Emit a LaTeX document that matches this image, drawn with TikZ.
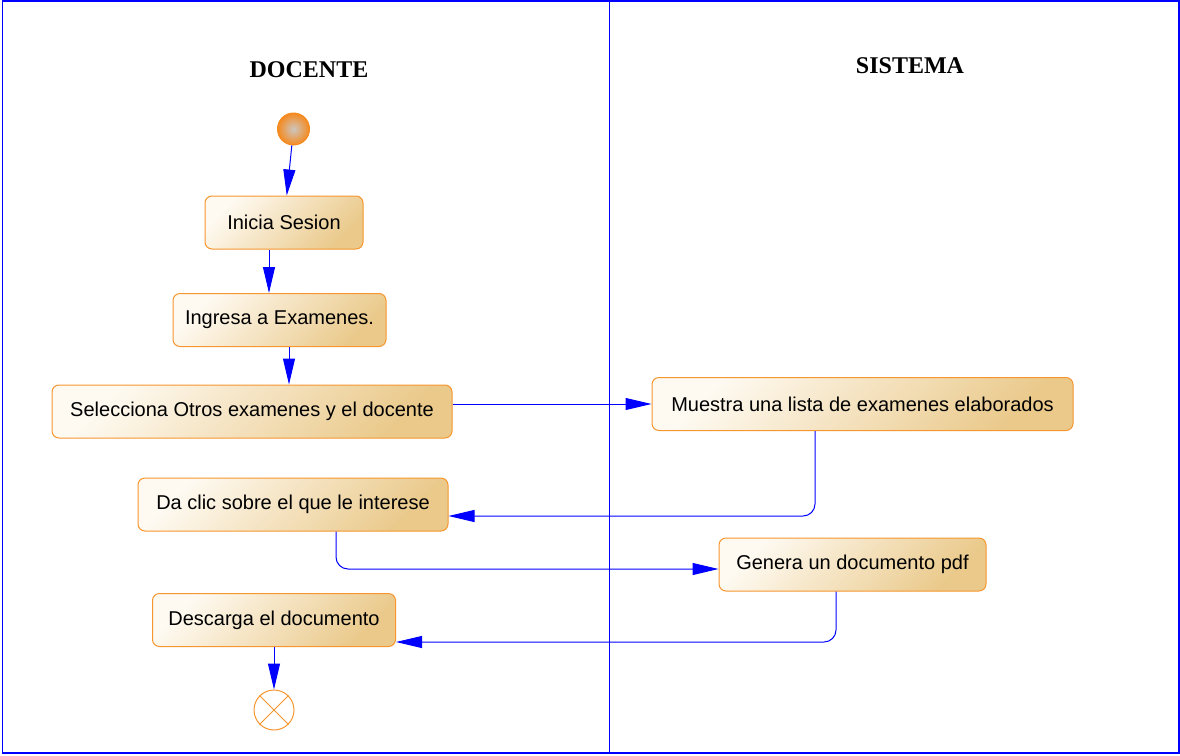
\documentclass[tikz,border=0pt]{standalone}
\usepackage{fontspec}
\setmainfont{Liberation Sans}
\newfontfamily\headfont{Liberation Serif}
\usetikzlibrary{arrows.meta}

\definecolor{actborder}{HTML}{F5962E}
\definecolor{acttop}{HTML}{FEFAF2}
\definecolor{actbot}{HTML}{EAC98A}
\definecolor{startedge}{HTML}{F58A1F}
\definecolor{startcore}{HTML}{CCC6C0}

\begin{document}
\begin{tikzpicture}[x=1pt, y=-1pt, every node/.style={font=\fontsize{20}{24}\selectfont}, >={Triangle[length=26pt, width=12pt]},
	act/.style={draw=actborder, line width=1pt, rounded corners=7pt, top color=acttop, bottom color=actbot, shading angle=45, inner xsep=8pt, minimum height=53pt},
	flow/.style={->, blue, line width=1pt},
	head/.style={font=\headfont\bfseries\fontsize{24}{28}\selectfont}]
	\useasboundingbox (0,0) rectangle (1180,755);
	% swimlanes
	\draw[blue, line width=1.5pt] (2.5,1) rectangle (1179,753);
	\draw[blue, line width=0.8pt] (609,1) -- (609,753);
	\node[head] (docente) at (309,70) {DOCENTE};
	\node[head] (sistema) at (910,66) {SISTEMA};
	% activities
	\node[circle, draw=startedge, line width=1pt, inner color=startcore, outer color=startedge, minimum size=32pt, inner sep=0pt] (inicio) at (293.5,129) {};
	\node[act, minimum width=158pt] (inicia) at (284,222.5) {Inicia Sesion};
	\node[act, minimum width=213pt] (ingresa) at (279.5,320) {Ingresa a Examenes.};
	\node[act, minimum width=400pt] (selecciona) at (252,411.5) {Selecciona Otros examenes y el docente};
	\node[act, minimum width=421pt] (muestra) at (862.5,404) {Muestra una lista de examenes elaborados};
	\node[act, minimum width=310pt] (daclic) at (293,504.5) {Da clic sobre el que le interese};
	\node[act, minimum width=267pt] (genera) at (852.5,564.5) {Genera un documento pdf};
	\node[act, minimum width=243pt] (descarga) at (274,620) {Descarga el documento};
	\node[circle, draw=actborder, line width=1pt, fill=white, minimum size=40pt, inner sep=0pt] (fin) at (274,710) {};
	\draw[actborder, line width=1pt] (fin.45) -- (fin.225) (fin.135) -- (fin.-45);
	% transitions
	\draw[flow] (inicio) -- (inicia);
	\draw[flow] (inicia.south -| 269,0) -- (ingresa.north -| 269,0);
	\draw[flow] (ingresa.south -| 289,0) -- (selecciona.north -| 289,0);
	\draw[flow] (selecciona.east |- muestra.west) -- (muestra.west);
	\draw[flow, rounded corners=12pt] (muestra.south -| 815,0) |- ([yshift=-11.5pt]daclic.east);
	\draw[flow, rounded corners=12pt] (daclic.south -| 336,0) |- ([yshift=-4.5pt]genera.west);
	\draw[flow, rounded corners=12pt] (genera.south -| 836,0) |- ([yshift=-22pt]descarga.east);
	\draw[flow] (descarga) -- (fin);
\end{tikzpicture}
\end{document}
